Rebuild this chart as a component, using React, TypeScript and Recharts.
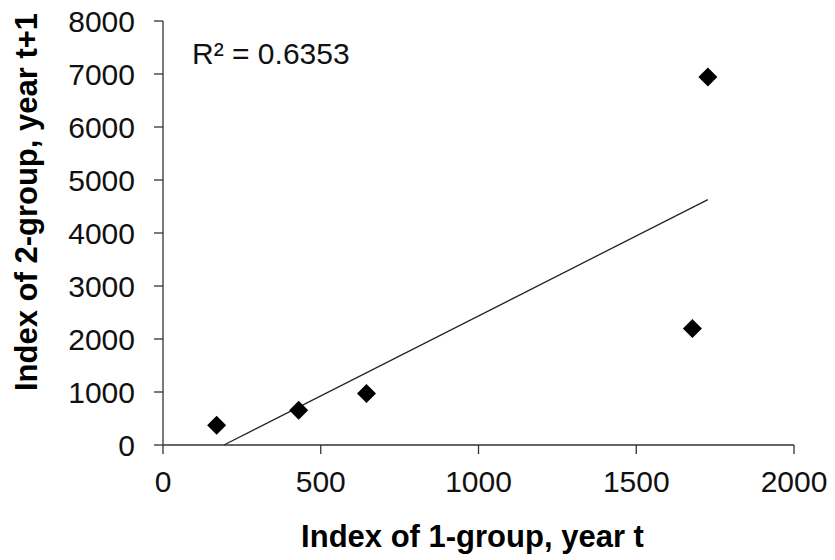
import React from 'react'
import {
  ScatterChart, Scatter, XAxis, YAxis, ReferenceLine, Label,
} from 'recharts'

// values
const groupOne = [170, 430, 645, 1678, 1727]
const groupTwo = [372, 655, 970, 2198, 6943]
// trendline ends (linear fit as drawn)
const trendX = [193, 1727]
const trendY = [0, 4630]
const xTicks = [0, 500, 1000, 1500, 2000]
const yTicks = [0, 1000, 2000, 3000, 4000, 5000, 6000, 7000, 8000]
const rSquared = '0.6353'

const FONT = '"Liberation Sans", Arial, sans-serif'

const points = groupOne.map((x, i) => ({ x, y: groupTwo[i] }))
const trend = trendX.map((x, i) => ({ x, y: trendY[i] }))

function Diamond(props: any) {
  const { cx, cy } = props
  if (cx == null || cy == null) return null
  const r = 9.5
  return (
    <polygon
      points={`${cx},${cy - r} ${cx + r},${cy} ${cx},${cy + r} ${cx - r},${cy}`}
      fill="#000"
    />
  )
}

export default function App() {
  return (
    <div style={{ position: 'absolute', left: 0, top: 0, width: 835, height: 560, background: '#fff' }}>
      <ScatterChart
        width={835}
        height={560}
        margin={{ top: 21, right: 41, left: 0, bottom: 0 }}
        style={{ fontFamily: FONT }}
      >
        <XAxis
          type="number"
          dataKey="x"
          domain={[0, 2000]}
          ticks={xTicks}
          height={115}
          tickSize={9}
          tickMargin={17}
          stroke="#333"
          strokeWidth={1.3}
          tick={{ fill: '#111', fontSize: 30, fontFamily: FONT }}
        >
          <Label
            content={({ viewBox }: any) => (
              <text
                x={viewBox.x + viewBox.width / 2 - 6}
                y={547}
                textAnchor="middle"
                fontSize={31}
                fontWeight="bold"
                fontFamily={FONT}
                fill="#000"
              >
                Index of 1-group, year t
              </text>
            )}
          />
        </XAxis>
        <YAxis
          type="number"
          dataKey="y"
          domain={[0, 8000]}
          ticks={yTicks}
          width={163}
          tickSize={9}
          tickMargin={19}
          stroke="#333"
          strokeWidth={1.3}
          tick={{ fill: '#111', fontSize: 30, fontFamily: FONT }}
        >
          <Label
            content={() => (
              <text
                x={37}
                y={202}
                transform="rotate(-90, 37, 202)"
                textAnchor="middle"
                fontSize={31}
                fontWeight="bold"
                fontFamily={FONT}
                fill="#000"
              >
                Index of 2-group, year t+1
              </text>
            )}
          />
        </YAxis>
        <ReferenceLine
          segment={trend}
          stroke="#222"
          strokeWidth={1.3}
          ifOverflow="extendDomain"
        />
        <Scatter data={points} shape={Diamond} isAnimationActive={false} />
        <text x={192} y={64} fontSize={30} fontFamily={FONT} fill="#111">
          R² = {rSquared}
        </text>
      </ScatterChart>
    </div>
  )
}
